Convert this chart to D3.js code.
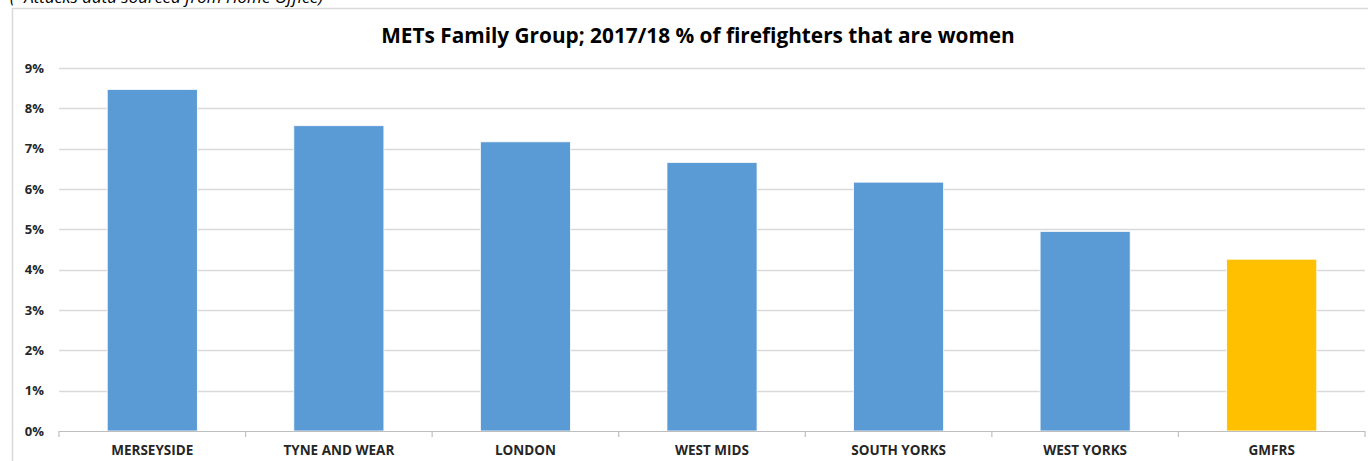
<!DOCTYPE html>
<html><head><meta charset="utf-8">
<script src="https://cdn.jsdelivr.net/npm/d3@7"></script>
<style>
html,body{margin:0;padding:0;background:#fff;overflow:hidden;}
svg{display:block;}
</style></head>
<body>
<svg id="chart" width="1368" height="461"></svg>
<script>
const categories = ["MERSEYSIDE","TYNE AND WEAR","LONDON","WEST MIDS","SOUTH YORKS","WEST YORKS","GMFRS"];
const values = [8.47, 7.57, 7.17, 6.66, 6.17, 4.95, 4.26];
const barColors = ["#5b9bd5","#5b9bd5","#5b9bd5","#5b9bd5","#5b9bd5","#5b9bd5","#ffc000"];
const yTicks = [0,1,2,3,4,5,6,7,8,9];
const title = "METs Family Group; 2017/18 % of firefighters that are women";
const note = "(*Attacks data sourced from Home Office)";

(function(){
const svg = d3.select("#chart");
const pLeft = 59, pRight = 1365, pTop = 68, pBottom = 431;

// outer frame
svg.append("line").attr("x1",12.5).attr("x2",12.5).attr("y1",8.5).attr("y2",461).attr("stroke","#d9d9d9").attr("stroke-width",1.5);
svg.append("line").attr("x1",12).attr("x2",1368).attr("y1",8.5).attr("y2",8.5).attr("stroke","#d9d9d9").attr("stroke-width",1.5);

svg.append("text").attr("x",10).attr("y",3).attr("font-family","Open Sans, sans-serif")
  .attr("font-style","italic").attr("font-size",17).attr("fill","#000").text(note);

const x = d3.scaleBand().domain(categories).range([pLeft,pRight]).paddingInner(0.517).paddingOuter(0.2585);
const y = d3.scaleLinear().domain([0,9]).range([pBottom,pTop]);

// gridlines
svg.append("g").selectAll("line").data(yTicks.filter(d=>d>0)).join("line")
  .attr("x1",pLeft).attr("x2",pRight).attr("y1",d=>Math.round(y(d))+0.5).attr("y2",d=>Math.round(y(d))+0.5)
  .attr("stroke","#d9d9d9").attr("stroke-width",1.5);

// y labels
const yAxis = d3.axisLeft(y).tickValues(yTicks).tickFormat(d=>d+"%").tickSize(0).tickPadding(0);
const ya = svg.append("g").attr("transform",`translate(44,0)`).call(yAxis);
ya.select(".domain").remove();
ya.selectAll("text").attr("font-family","Open Sans, sans-serif").attr("font-weight","bold").attr("font-size",13).attr("fill","#262626");

// bars
svg.append("g").selectAll("rect").data(values).join("rect")
  .attr("x",(d,i)=>x(categories[i])).attr("width",x.bandwidth())
  .attr("y",d=>y(d)).attr("height",d=>y(0)-y(d))
  .attr("fill",(d,i)=>barColors[i]).attr("stroke","#ffffff").attr("stroke-width",0.8);

// x axis
const xb = d3.scaleLinear().domain([0,categories.length]).range([pLeft,pRight]);
const xg = svg.append("g");
xg.append("line").attr("x1",pLeft).attr("x2",pRight).attr("y1",pBottom+0.5).attr("y2",pBottom+0.5).attr("stroke","#bfbfbf").attr("stroke-width",1.2);
xg.selectAll("line.tick").data(d3.range(categories.length+1)).join("line").attr("class","tick")
  .attr("x1",d=>xb(d)).attr("x2",d=>xb(d)).attr("y1",pBottom).attr("y2",pBottom+6).attr("stroke","#bfbfbf").attr("stroke-width",1.2);
xg.selectAll("text").data(categories).join("text")
  .attr("x",d=>x(d)+x.bandwidth()/2).attr("y",455).attr("text-anchor","middle")
  .attr("font-family","Open Sans, sans-serif").attr("font-weight","bold").attr("font-size",13.5).attr("fill","#262626").text(d=>d);

// title
svg.append("text").attr("x",698).attr("y",43).attr("text-anchor","middle")
  .attr("font-family","Open Sans, sans-serif").attr("font-weight","bold").attr("font-size",20.8).attr("fill","#000").text(title);
})();
</script>
</body></html>
